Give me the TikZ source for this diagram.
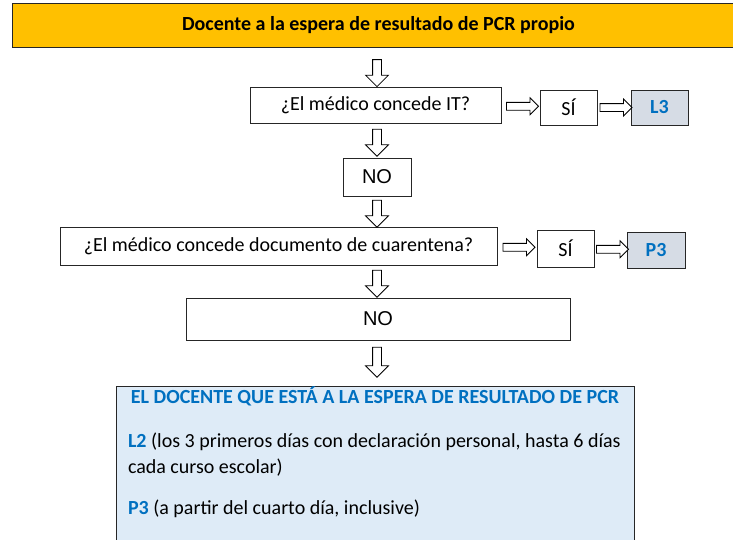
\documentclass[tikz,border=0pt]{standalone}
\usepackage{fontspec}
\setmainfont{Carlito}
\newfontfamily\arialfont{Liberation Sans}
\usetikzlibrary{shapes.arrows,positioning}

\definecolor{titleyellow}{HTML}{FFC000}
\definecolor{codegray}{HTML}{D6DCE5}
\definecolor{infoblue}{HTML}{DEEBF7}
\definecolor{codeblue}{HTML}{0070C0}

\tikzset{
  stepbox/.style={draw=black!85, fill=white, line width=0.9pt, inner sep=0pt,
    font=\fontsize{20}{24}\selectfont},
  codebox/.style={stepbox, fill=codegray, text=codeblue, font=\fontsize{20}{24}\selectfont\bfseries},
  nobox/.style={stepbox, font=\arialfont\fontsize{20}{24}\selectfont},
  downarrow/.style={single arrow, draw=black, fill=white, rotate=-90, line width=0.8pt,
    inner xsep=0pt, inner ysep=4pt, minimum height=27pt, minimum width=0pt,
    single arrow head extend=7pt},
  rightarrow/.style={single arrow, draw=black, fill=white, line width=0.8pt,
    inner xsep=0pt, inner ysep=3.5pt, minimum height=32pt, minimum width=0pt,
    single arrow head extend=4.5pt}
}

\begin{document}
\begin{tikzpicture}[x=1pt, y=-1pt]
  \useasboundingbox (0,0) rectangle (733,539);
  \clip (0,0) rectangle (733,539);

  % title
  \node[stepbox, fill=titleyellow, minimum width=733pt, minimum height=44pt,
    font=\fontsize{20}{24}\selectfont\bfseries] (title) at (378.5,25)
    {Docente a la espera de resultado de PCR propio};

  % first question
  \node[stepbox, minimum width=251pt, minimum height=36pt] (q1) at (375.5,105) {¿El médico concede IT?};
  \node[stepbox, minimum width=57pt, minimum height=35pt] (si1) at (568.5,107.5) {SÍ};
  \node[codebox, minimum width=57pt, minimum height=35pt] (l3) at (659.5,107.5) {L3};
  \node[nobox, minimum width=68pt, minimum height=38pt] (no1) at (377,177) {NO};

  % second question
  \node[stepbox, minimum width=437pt, minimum height=38pt] (q2) at (278.5,246) {¿El médico concede documento de cuarentena?};
  \node[stepbox, minimum width=57pt, minimum height=37pt] (si2) at (565.5,248.5) {SÍ};
  \node[codebox, minimum width=58pt, minimum height=36pt] (p3) at (656,250) {P3};
  \node[nobox, minimum width=384pt, minimum height=42pt] (no2) at (378,319) {NO};

  % result
  \node[stepbox, fill=infoblue, anchor=north, text width=494pt, inner xsep=12pt, inner ysep=0pt,
    align=flush left, font=\fontsize{20}{26}\selectfont] (info) at (375,386) {%
    \vspace{9pt}{\centering\mbox{\color{codeblue}\bfseries EL DOCENTE QUE ESTÁ A LA ESPERA DE RESULTADO DE PCR}\par}
    \vspace{9pt}{\color{codeblue}\bfseries L2} (los 3 primeros días con declaración personal, hasta 6 días cada curso escolar)\par
    \vspace{15pt}{\color{codeblue}\bfseries P3} (a partir del cuarto día, inclusive)\par
    \leavevmode\rule{0pt}{90pt}};

  % arrows
  \path (title.south -| no1) -- node[downarrow, pos=0.6] {} (q1.north -| no1);
  \path (q1.south -| no1) -- node[downarrow] {} (no1.north);
  \path (no1.south) -- node[downarrow] {} (q2.north -| no1);
  \path (q2.south -| no1) -- node[downarrow] {} (no2.north -| no1);
  \path (no2.south -| no1) -- node[downarrow, pos=0.43, minimum height=30pt] {} (info.north -| no1);
  \path (q1.east) -- node[rightarrow] {} (si1.west);
  \path (si1.east) -- node[rightarrow] {} (l3.west);
  \path (q2.east) -- node[rightarrow] {} (si2.west);
  \path (si2.east) -- node[rightarrow] {} (p3.west);
\end{tikzpicture}
\end{document}
